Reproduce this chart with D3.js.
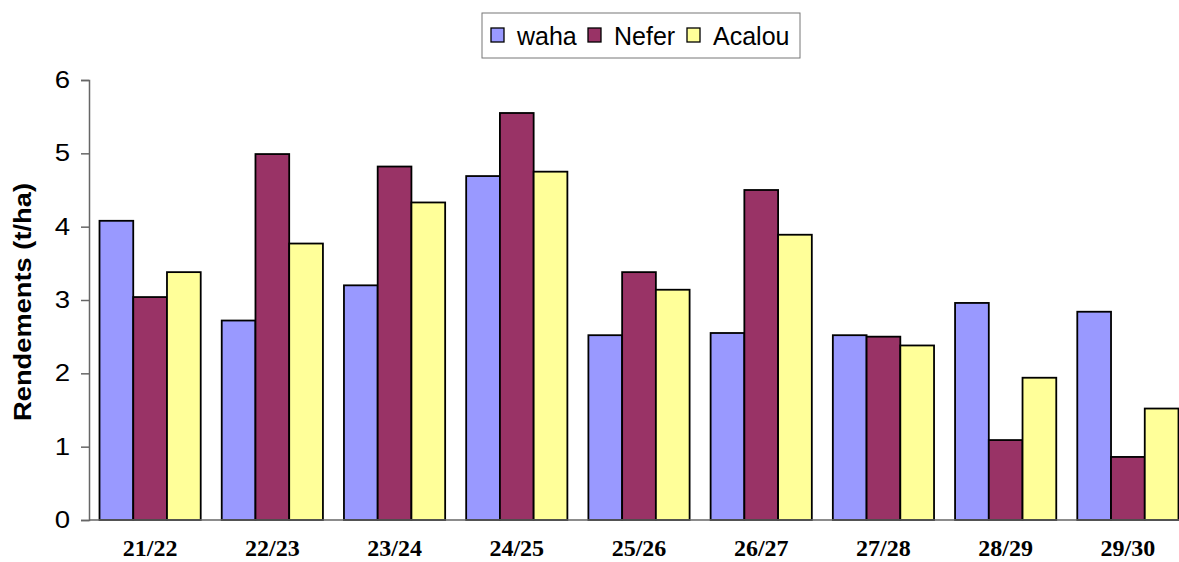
<!DOCTYPE html>
<html>
<head>
<meta charset="utf-8">
<script src="https://cdn.jsdelivr.net/npm/d3@7"></script>
<style>
  body { margin: 0; background: #fff; }
  svg { display: block; }
</style>
</head>
<body>
<svg width="1179" height="562"></svg>
<script>
const seasons = ["21/22", "22/23", "23/24", "24/25", "25/26", "26/27", "27/28", "28/29", "29/30"]
const series = ["waha", "Nefer", "Acalou"]
const waha   = [4.08, 2.72, 3.20, 4.69, 2.52, 2.55, 2.52, 2.96, 2.84]
const nefer  = [3.04, 4.99, 4.82, 5.55, 3.38, 4.50, 2.50, 1.09, 0.86]
const acalou = [3.38, 3.77, 4.33, 4.75, 3.14, 3.89, 2.38, 1.94, 1.52]
const yTicks = [0, 1, 2, 3, 4, 5, 6]
const colors = ["#9999ff", "#993366", "#ffff99"]

const values = [waha, nefer, acalou]
const rows = seasons.map((s, i) => ({ season: s, vals: series.map((k, j) => ({ key: k, v: values[j][i] })) }))

let svg = d3.select("svg")

const x0 = d3.scaleBand()
  .domain(seasons)
  .range([89, 1189])
  .paddingInner(0.172)
  .paddingOuter(0.086)

const x1 = d3.scaleBand()
  .domain(series)
  .range([0, x0.bandwidth()])

const y = d3.scaleLinear()
  .domain([0, 6])
  .range([520, 80])

const color = d3.scaleOrdinal().domain(series).range(colors)

// bars
svg.append("g")
  .selectAll("g")
  .data(rows)
  .enter()
  .append("g")
  .attr("transform", d => "translate(" + x0(d.season) + ",0)")
  .selectAll("rect")
  .data(d => d.vals)
  .enter()
  .append("rect")
  .attr("x", d => x1(d.key))
  .attr("y", d => y(d.v))
  .attr("width", x1.bandwidth())
  .attr("height", d => y(0) - y(d.v))
  .style("fill", d => color(d.key))
  .style("stroke", "#000")
  .style("stroke-width", 1.8)

// y axis
let yAxis = svg.append("g")
  .attr("transform", "translate(89,0)")
  .call(d3.axisLeft(y).tickValues(yTicks).tickSize(8).tickPadding(0).tickFormat(d3.format("d")))
yAxis.select(".domain").attr("stroke", "#666").attr("stroke-width", 1.5)
yAxis.selectAll(".tick line").attr("stroke", "#666").attr("stroke-width", 1.5)
yAxis.selectAll(".tick text")
  .attr("x", 0)
  .attr("transform", "translate(-19,0) scale(1.2,1)")
  .style("font-family", "'Liberation Sans', Arial, sans-serif")
  .style("font-size", "23px")
  .attr("fill", "#000")

// x axis
let xAxis = svg.append("g")
  .attr("transform", "translate(0,520)")
  .call(d3.axisBottom(x0).tickSize(0).tickPadding(0))
xAxis.select(".domain").attr("stroke", "#666").attr("stroke-width", 1.5).attr("d", "M89,0H1189")
xAxis.selectAll(".tick text")
  .attr("y", 36)
  .attr("dy", 0)
  .style("font-family", "'Liberation Serif', 'Times New Roman', serif")
  .style("font-weight", "bold")
  .style("font-size", "24px")
  .attr("fill", "#000")

// y title
svg.append("text")
  .attr("transform", "translate(31,302) rotate(-90)")
  .attr("text-anchor", "middle")
  .attr("textLength", 238)
  .attr("lengthAdjust", "spacingAndGlyphs")
  .style("font-family", "'Liberation Sans', Arial, sans-serif")
  .style("font-weight", "bold")
  .style("font-size", "23px")
  .text("Rendements (t/ha)")

// legend
let legend = svg.append("g")
legend.append("rect")
  .attr("x", 482).attr("y", 13).attr("width", 318).attr("height", 45)
  .style("fill", "#fff").style("stroke", "#777").style("stroke-width", 1)
const legX = [491, 588, 687]
series.forEach((k, i) => {
  legend.append("rect")
    .attr("x", legX[i]).attr("y", 28).attr("width", 13).attr("height", 14)
    .style("fill", color(k)).style("stroke", "#000").style("stroke-width", 1.3)
  legend.append("text")
    .attr("x", legX[i] + 26).attr("y", 45)
    .style("font-family", "'Liberation Sans', Arial, sans-serif")
    .style("font-size", "25px")
    .text(k)
})
</script>
</body>
</html>
